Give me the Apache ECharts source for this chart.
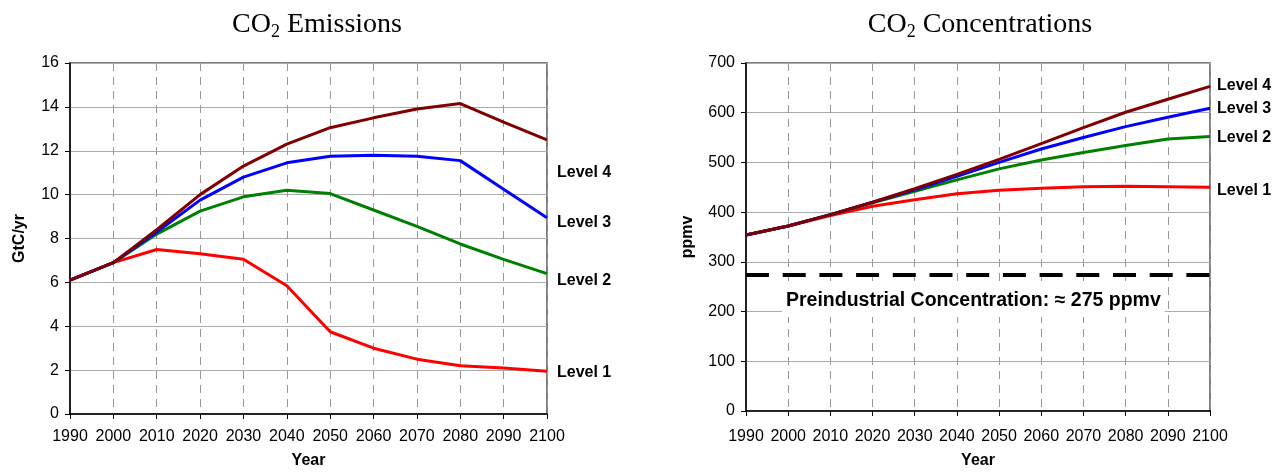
<!DOCTYPE html>
<html><head><meta charset="utf-8">
<script src="https://cdn.jsdelivr.net/npm/echarts@6/dist/echarts.min.js"></script>
<style>html,body{margin:0;padding:0;background:#fff}#c{width:1286px;height:474px}</style>
</head><body><div id="c"></div>
<script>
const years = ['1990','2000','2010','2020','2030','2040','2050','2060','2070','2080','2090','2100'];
const seriesNames = ['Level 1','Level 2','Level 3','Level 4'];
const colors = ['#ff0000','#008000','#0000ff','#800000'];
// Emissions (GtC/yr)
const emL1 = [6.1, 6.9, 7.5, 7.3, 7.05, 5.85, 3.75, 3.0, 2.5, 2.2, 2.1, 1.95];
const emL2 = [6.1, 6.9, 8.2, 9.25, 9.9, 10.2, 10.05, 9.3, 8.55, 7.75, 7.05, 6.4];
const emL3 = [6.1, 6.9, 8.3, 9.75, 10.8, 11.45, 11.75, 11.8, 11.75, 11.55, 10.25, 8.95];
const emL4 = [6.1, 6.9, 8.4, 10.0, 11.3, 12.3, 13.05, 13.5, 13.9, 14.15, 13.3, 12.5];
// Concentrations (ppmv)
const coL1 = [354, 372, 393, 412, 425, 437, 444, 448, 451, 452, 451, 450];
const coL2 = [354, 372, 395, 419, 442, 465, 487, 505, 520, 534, 547, 552];
const coL3 = [354, 372, 395, 420, 445, 472, 500, 527, 550, 572, 591, 609];
const coL4 = [354, 372, 395, 420, 447, 476, 506, 538, 570, 601, 627, 653];
const preindustrial = 275;
const preLabel = 'Preindustrial Concentration: \u2248 275 ppmv';

const chart = echarts.init(document.getElementById('c'));
const font = 'Arial, "Liberation Sans", sans-serif';
const serif = '"Times New Roman", "Liberation Serif", serif';

function xAxis(gi, margin, gap){
  return {
    type:'category', gridIndex:gi, data:years, boundaryGap:false,
    name:'Year', nameLocation:'middle', nameGap:gap,
    nameTextStyle:{fontFamily:font, fontWeight:'bold', fontSize:16, color:'#000'},
    axisLine:{lineStyle:{color:'#000', width:1.5}},
    axisTick:{show:true, length:5, lineStyle:{color:'#000'}},
    axisLabel:{fontFamily:font, fontSize:16, color:'#000', margin:margin, interval:0},
    splitLine:{show:true, lineStyle:{color:'#999', type:[8,6], width:1}}
  };
}
function yAxis(gi, max, interval, name, gap){
  return {
    type:'value', gridIndex:gi, min:0, max:max, interval:interval,
    name:name, nameLocation:'middle', nameGap:gap, nameRotate:90,
    nameTextStyle:{fontFamily:font, fontWeight:'bold', fontSize:16, color:'#000'},
    axisLine:{show:true, lineStyle:{color:'#000', width:1.5}},
    axisTick:{show:true, length:5, lineStyle:{color:'#000'}},
    axisLabel:{fontFamily:font, fontSize:16, color:'#000', margin:11},
    splitLine:{show:true, lineStyle:{color:'#aaa', width:1}}
  };
}
function mk(name, data, gi, color, z, labelOffset, dist){
  return {
    type:'line', name:name, data:data, xAxisIndex:gi, yAxisIndex:gi,
    symbol:'none', smooth:false, z:z,
    lineStyle:{color:color, width:3},
    endLabel:{show:true, formatter:name, fontFamily:font, fontWeight:'bold', fontSize:16,
      color:'#000', distance:dist, offset:labelOffset||[0,0]},
    emphasis:{disabled:true}
  };
}
const emData = [emL1, emL2, emL3, emL4];
const coData = [coL1, coL2, coL3, coL4];
const emOffsets = [[0,1],[0,7],[0,5],[0,33]];
const coOffsets = [[0,3],[0,1],[0,0],[0,-1]];
const series = [];
for (let i=0;i<4;i++) series.push(mk(seriesNames[i], emData[i], 0, colors[i], 3+i, emOffsets[i], 10));
for (let i=0;i<4;i++) series.push(mk(seriesNames[i], coData[i], 1, colors[i], 3+i, coOffsets[i], 7));
series[4].markLine = {
  silent:true, symbol:'none', animation:false,
  lineStyle:{color:'#000', type:[23,13.7], width:4},
  label:{show:false},
  data:[{yAxis:preindustrial}]
};

const titleRich = {
  n:{fontFamily:serif, fontSize:28, fontWeight:'normal', color:'#000'},
  s:{fontFamily:serif, fontSize:18, fontWeight:'normal', color:'#000', verticalAlign:'bottom', padding:[15,0,0,0]}
};
chart.setOption({
  animation:false,
  title:[
    {text:'{n|CO}{s|2}{n| Emissions}', left:312, top:3, textAlign:'center', textStyle:{rich:titleRich}},
    {text:'{n|CO}{s|2}{n| Concentrations}', left:975, top:3, textAlign:'center', textStyle:{rich:titleRich}}
  ],
  grid:[
    {left:70, right:739, top:63, bottom:59, show:true, borderColor:'#555', borderWidth:1.5, backgroundColor:'transparent'},
    {left:746, right:76, top:63, bottom:62, show:true, borderColor:'#555', borderWidth:1.5, backgroundColor:'transparent'}
  ],
  xAxis:[xAxis(0, 15, 39), xAxis(1, 18, 42)],
  yAxis:[yAxis(0,16,2,'GtC/yr',42), yAxis(1,700,100,'ppmv',50)],
  series:series,
  graphic:[
    {type:'text', left:782, top:287, z:10,
     style:{text:preLabel, fontFamily:font, fontWeight:'bold', fontSize:19.5, fill:'#000',
       backgroundColor:'#fff', padding:[4,4,6,4]}}
  ]
});
</script></body></html>
